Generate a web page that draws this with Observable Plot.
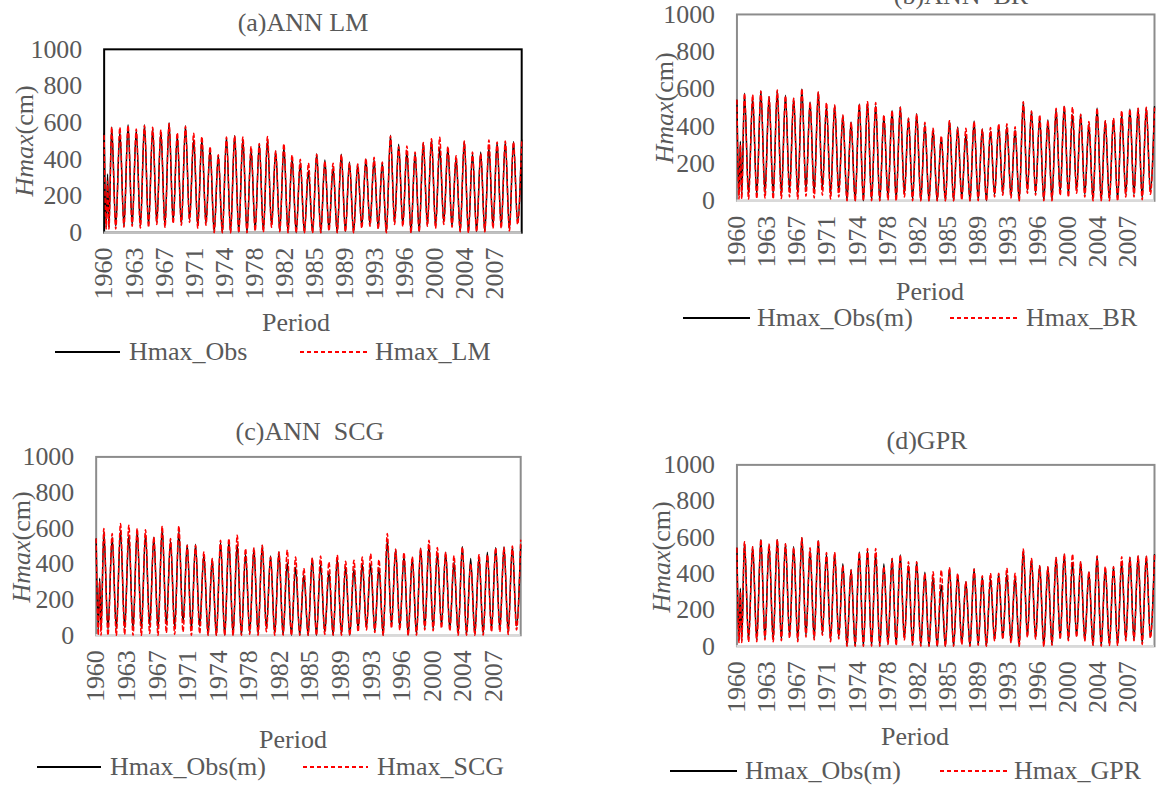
<!DOCTYPE html>
<html><head><meta charset="utf-8">
<script src="https://cdn.jsdelivr.net/npm/d3@7"></script>
<script src="https://cdn.jsdelivr.net/npm/@observablehq/plot@0.6"></script>
<style>
html,body{margin:0;padding:0;background:#fff;overflow:hidden;}
#root{position:relative;width:1156px;height:785px;overflow:hidden;font-family:'Liberation Serif','DejaVu Serif',serif;color:#595959;}
#root svg{position:absolute;left:0;top:0;}
.t{position:absolute;white-space:nowrap;font-size:26px;line-height:1;transform:translate(-50%,-50%);}
.yl{position:absolute;white-space:nowrap;font-size:26px;line-height:1;transform:translate(-50%,-50%) rotate(-90deg);}
.lg{position:absolute;white-space:nowrap;font-size:26px;line-height:1;transform:translateY(-50%);}
</style></head><body><div id="root"></div>
<script>
// ---- data (monthly series Jan 1960 - Dec 2010, 612 months) ----
const nMonths = 612;
const tickMonths = [0,44,88,132,176,220,264,308,352,396,440,484,528,572];
const tickLabels = ["1960","1963","1967","1971","1974","1978","1982","1985","1989","1993","1996","2000","2004","2007"];
const yTicks = [0,200,400,600,800,1000];
// first-year months (before first annual peak) and annual peak/trough months
const firstMonths = [0,3,5,7];
const peakMonthOfYear = 11;
const troughMonthOfYear = 5;

// observed
const obsFirst = [540,30,320,30];
const obsPeaks = [577,550,589,560,589,566,550,600,530,583,
  507,510,455,423,520,530,510,455,485,505,
  445,468,408,382,338,431,396,356,428,385,
  372,400,397,380,532,482,445,435,490,508,
  462,465,409,498,430,440,465,492,497,498,505];
const obsTroughs = [35,35,43,35,38,56,35,60,45,70,35,50,
  3,0,0,3,0,15,8,40,8,3,0,0,
  0,0,16,0,7,0,34,43,25,2,56,43,2,7,43,34,56,34,7,2,7,7,34,34,16,52];

// ANN LM
const lmFirst = [530,20,280,20];
const lmPeaks = [575,574,585,565,585,575,560,595,545,580,
  542,524,469,425,522,528,522,469,486,524,
  445,485,424,400,379,428,390,379,425,379,
  375,405,411,385,528,469,473,440,492,512,
  520,470,420,500,440,430,505,495,500,495,510];
const lmTroughs = [20,30,35,25,30,45,30,50,40,55,25,40,
  0,0,0,0,0,10,5,30,5,0,0,0,
  0,0,10,0,5,0,25,35,20,0,45,35,0,5,35,25,45,30,5,0,5,5,25,25,10,45];

// ANN BR
const brFirst = [540,10,300,10];
const brPeaks = [577,568,589,559,595,564,550,602,527,584,
  527,514,461,421,520,532,527,461,484,502,
  443,464,421,389,348,430,389,389,425,384,
  393,413,413,398,532,482,461,429,496,509,
  502,464,425,496,430,443,484,491,496,502,496];
const brTroughs = [10,12,15,10,12,20,10,25,15,30,10,20,
  0,0,0,0,0,5,0,20,0,0,0,0,
  0,0,5,0,0,0,20,30,15,0,40,30,0,0,30,20,40,20,0,0,0,0,20,20,5,35];

// ANN SCG
const scgFirst = [540,0,300,0];
const scgPeaks = [598,570,626,617,598,592,551,611,542,613,
  505,505,467,430,533,542,561,486,490,505,
  439,467,477,439,374,434,445,411,449,415,
  421,439,456,424,570,482,464,439,486,533,
  492,464,445,495,402,452,452,490,492,501,533];
const scgTroughs = [0,0,5,0,0,10,0,15,5,20,0,10,
  0,0,0,0,0,5,0,20,0,0,0,0,
  0,0,5,0,0,0,20,30,15,0,40,30,0,0,30,25,40,25,0,0,0,0,20,20,5,30];

// GPR
const gprFirst = [540,20,300,20];
const gprPeaks = [576,548,589,563,589,565,543,598,543,585,
  517,517,444,420,517,539,539,439,484,503,
  466,466,402,411,420,433,402,356,426,389,
  402,402,430,402,536,484,444,439,490,508,
  508,466,411,497,439,439,494,490,497,497,503];
const gprTroughs = [25,25,35,25,30,45,25,50,35,60,25,40,
  0,0,0,0,0,10,5,35,5,0,0,0,
  0,0,10,0,5,0,30,40,20,0,50,40,0,5,40,30,50,30,5,0,5,5,30,30,10,45];

// ---- build table rows from the arrays ----
function buildSeries(first, peaks, troughs) {
  const rows = firstMonths.map((m, i) => ({m, v: first[i]}));
  peaks.forEach((p, k) => {
    if (k >= 1) rows.push({m: 12 * k + troughMonthOfYear, v: troughs[k - 1]});
    rows.push({m: 12 * k + peakMonthOfYear, v: p});
  });
  return rows;
}
const obsRows = buildSeries(obsFirst, obsPeaks, obsTroughs);

// ---- layout ----
const FONT = "'Liberation Serif','DejaVu Serif',serif";
const panels = [
  {title:"(a)ANN LM", obsName:"Hmax_Obs", modelName:"Hmax_LM", first:lmFirst, peaks:lmPeaks, troughs:lmTroughs,
   box:[104,49,523,233], frame:"#000000", base:"#bfbfbf", titleXY:[303,23], ylabXY:[25,141], periodXY:[296,323],
   legY:352, leg:[55,120,129,300,367,375]},
  {title:"(b)ANN\u00a0\u00a0BR", obsName:"Hmax_Obs(m)", modelName:"Hmax_BR", first:brFirst, peaks:brPeaks, troughs:brTroughs,
   box:[739,14,1158,201], frame:"#8c8c8c", base:"#d9d9d9", titleXY:[961,-4], ylabXY:[665,108], periodXY:[930,292],
   legY:318, leg:[683,750,757,950,1019,1026]},
  {title:"(c)ANN\u00a0\u00a0SCG", obsName:"Hmax_Obs(m)", modelName:"Hmax_SCG", first:scgFirst, peaks:scgPeaks, troughs:scgTroughs,
   box:[96,458,522,637], frame:"#8c8c8c", base:"#d9d9d9", titleXY:[310,432], ylabXY:[22,547], periodXY:[293,740],
   legY:767, leg:[37,101,110,303,368,377]},
  {title:"(d)GPR", obsName:"Hmax_Obs(m)", modelName:"Hmax_GPR", first:gprFirst, peaks:gprPeaks, troughs:gprTroughs,
   box:[739,466,1158,648], frame:"#8c8c8c", base:"#d9d9d9", titleXY:[927,441], ylabXY:[662,557], periodXY:[915,737],
   legY:771, leg:[670,737,745,940,1008,1014]}
];

const root = document.getElementById("root");
const W = 1160, H = 785;

function addDiv(cls, x, y, html) {
  const d = document.createElement("div");
  d.className = cls;
  d.style.left = x + "px";
  d.style.top = y + "px";
  d.innerHTML = html;
  root.appendChild(d);
  return d;
}
function addLegendLine(x1, x2, y, color, dash) {
  const ns = "http://www.w3.org/2000/svg";
  const s = document.createElementNS(ns, "svg");
  s.setAttribute("width", x2 - x1);
  s.setAttribute("height", 6);
  s.style.left = x1 + "px";
  s.style.top = (y - 3) + "px";
  const l = document.createElementNS(ns, "line");
  l.setAttribute("x1", 0); l.setAttribute("x2", x2 - x1);
  l.setAttribute("y1", 3); l.setAttribute("y2", 3);
  l.setAttribute("stroke", color);
  l.setAttribute("stroke-width", 2);
  if (dash) l.setAttribute("stroke-dasharray", dash);
  s.appendChild(l);
  root.appendChild(s);
}

panels.forEach(p => {
  const [x0, y0, x1, y1] = p.box;
  const modelRows = buildSeries(p.first, p.peaks, p.troughs);
  const chart = Plot.plot({
    width: W, height: H,
    marginLeft: x0, marginTop: y0, marginRight: W - x1, marginBottom: H - y1,
    style: {fontFamily: FONT, fontSize: "26px", color: "#595959", background: "transparent", overflow: "visible"},
    x: {domain: [0, nMonths - 1]},
    y: {domain: [0, 1000]},
    marks: [
      Plot.frame({stroke: p.frame, strokeWidth: 2}),
      Plot.axisY({ticks: yTicks, tickSize: 0, tickPadding: 22, fontSize: 26, label: null, tickFormat: d => String(d)}),
      Plot.axisX({ticks: tickMonths, tickSize: 0, tickPadding: 15, tickRotate: -90, fontSize: 26, label: null,
        tickFormat: d => tickLabels[tickMonths.indexOf(d)]}),
      Plot.ruleY([0], {stroke: p.base, strokeWidth: 2.5}),
      Plot.line(obsRows, {x: "m", y: "v", stroke: "#000000", strokeWidth: 1.5, curve: "monotone-x"}),
      Plot.line(modelRows, {x: "m", y: "v", stroke: "#ff0000", strokeWidth: 1.5, strokeDasharray: "4,3", curve: "monotone-x"})
    ]
  });
  chart.style.fontFamily = FONT;
  chart.querySelectorAll("text").forEach(t => t.setAttribute("font-family", FONT));
  root.appendChild(chart);

  addDiv("t", p.titleXY[0], p.titleXY[1], p.title);
  addDiv("yl", p.ylabXY[0], p.ylabXY[1], "<i>Hmax</i>(cm)");
  addDiv("t", p.periodXY[0], p.periodXY[1], "Period");
  const [bl1, bl2, bt, rl1, rl2, rt] = p.leg;
  addLegendLine(bl1, bl2, p.legY, "#000000", null);
  addDiv("lg", bt, p.legY, p.obsName);
  addLegendLine(rl1, rl2, p.legY, "#ff0000", "4,3");
  addDiv("lg", rt, p.legY, p.modelName);
});
</script>
</body></html>
